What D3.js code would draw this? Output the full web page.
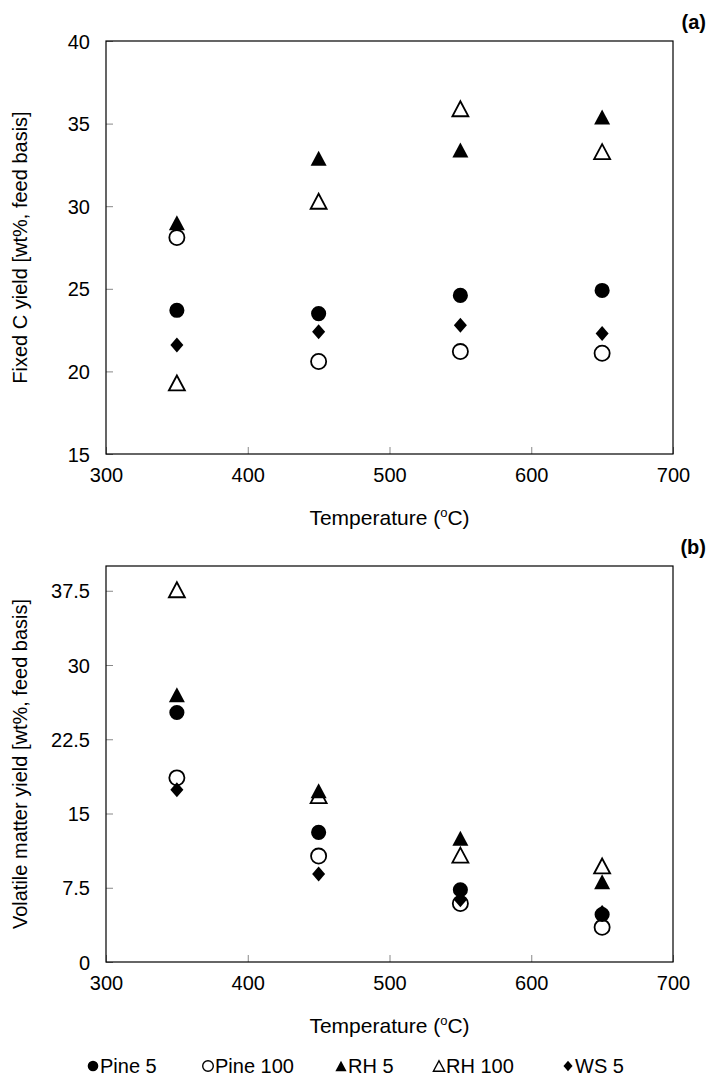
<!DOCTYPE html>
<html>
<head>
<meta charset="utf-8">
<script src="https://cdn.jsdelivr.net/npm/d3@7"></script>
<style>
  body { margin: 0; background: #fff; }
  text { font-family: "Liberation Sans", Arial, sans-serif; fill: #000; }
</style>
</head>
<body>
<svg id="chart" width="709" height="1089"></svg>
<script>
// data
const temps = [350, 450, 550, 650];
const seriesNames = ["Pine 5", "Pine 100", "RH 5", "RH 100", "WS 5"];

// (a) fixed C yield, wt% feed basis
const fixedPine5   = [23.7, 23.5, 24.6, 24.9];
const fixedPine100 = [28.1, 20.6, 21.2, 21.1];
const fixedRH5     = [29.0, 32.9, 33.4, 35.4];
const fixedRH100   = [19.3, 30.3, 35.9, 33.3];
const fixedWS5     = [21.6, 22.4, 22.8, 22.3];

// (b) volatile matter yield, wt% feed basis
const volPine5   = [25.2, 13.1, 7.3, 4.8];
const volPine100 = [18.6, 10.7, 5.9, 3.5];
const volRH5     = [27.0, 17.3, 12.5, 8.1];
const volRH100   = [37.6, 16.8, 10.8, 9.7];
const volWS5     = [17.4, 8.9, 6.3, 5.0];

const xTicks = [300, 400, 500, 600, 700];
const yTicksA = [15, 20, 25, 30, 35, 40];
const yTicksB = [0, 7.5, 15, 22.5, 30, 37.5];

const svg = d3.select("#chart");
const left = 106, right = 673;

const x = d3.scaleLinear().domain([300, 700]).range([left, right]);

// marker shapes, centred on their box
const shapes = {
  circle: d3.symbol(d3.symbolCircle, 180)(),
  triangle: "M0,-7.5L8,7.5L-8,7.5Z",
  diamond: "M0,-7.5L6.5,0L0,7.5L-6.5,0Z"
};
const styles = [
  { shape: "circle", filled: true },
  { shape: "circle", filled: false },
  { shape: "triangle", filled: true },
  { shape: "triangle", filled: false },
  { shape: "diamond", filled: true }
];

function drawPanel(opts) {
  const y = d3.scaleLinear().domain(opts.yDomain).range([opts.bottom, opts.top]);
  const g = svg.append("g");

  // x axis with inside ticks
  const xAxis = g.append("g")
    .attr("transform", `translate(0,${opts.bottom})`)
    .call(d3.axisBottom(x).tickValues(xTicks).tickSizeInner(-7).tickSizeOuter(0).tickPadding(14));
  xAxis.select(".domain").remove();
  xAxis.selectAll(".tick line").attr("stroke", "#888");
  xAxis.selectAll(".tick text").attr("font-size", 20).attr("dy", "0.72em");

  const yAxis = g.append("g")
    .attr("transform", `translate(${left},0)`)
    .call(d3.axisLeft(y).tickValues(opts.yTicks).tickFormat(d => String(d))
      .tickSizeInner(-7).tickSizeOuter(0).tickPadding(16));
  yAxis.select(".domain").remove();
  yAxis.selectAll(".tick line").attr("stroke", "#888");
  yAxis.selectAll(".tick text").attr("font-size", 20).attr("dy", "0.35em");

  // frame
  g.append("rect")
    .attr("x", left).attr("y", opts.top)
    .attr("width", right - left).attr("height", opts.bottom - opts.top)
    .attr("fill", "none").attr("stroke", "#000").attr("stroke-width", 1.2);

  // points, series in legend order
  opts.series.forEach((vals, i) => {
    const st = styles[i];
    g.append("g").selectAll("path")
      .data(vals.map((v, j) => ({ t: temps[j], v })))
      .join("path")
      .attr("d", shapes[st.shape])
      .attr("transform", d => `translate(${x(d.t)},${y(d.v)})`)
      .attr("fill", st.filled ? "#000" : "none")
      .attr("stroke", "#000")
      .attr("stroke-width", st.filled ? 0 : 1.8);
  });

  g.append("text")
    .attr("x", (left + right) / 2).attr("y", opts.bottom + 71)
    .attr("text-anchor", "middle").attr("font-size", 21)
    .html('Temperature (<tspan font-size="13" dy="-8">o</tspan><tspan dy="8">C)</tspan>');

  g.append("text")
    .attr("transform", `translate(27,${(opts.top + opts.bottom) / 2}) rotate(-90)`)
    .attr("text-anchor", "middle").attr("font-size", 20)
    .text(opts.yTitle);

  g.append("text")
    .attr("x", 706).attr("y", opts.labelY)
    .attr("text-anchor", "end").attr("font-size", 20).attr("font-weight", "bold")
    .text(opts.label);
}

drawPanel({
  top: 41, bottom: 454, yDomain: [15, 40], yTicks: yTicksA,
  series: [fixedPine5, fixedPine100, fixedRH5, fixedRH100, fixedWS5],
  yTitle: "Fixed C yield [wt%, feed basis]", label: "(a)", labelY: 29
});

drawPanel({
  top: 566, bottom: 962, yDomain: [0, 40], yTicks: yTicksB,
  series: [volPine5, volPine100, volRH5, volRH100, volWS5],
  yTitle: "Volatile matter yield [wt%, feed basis]", label: "(b)", labelY: 554
});

// legend
const legendX = [88, 203, 336, 434, 563];
const legend = svg.append("g").attr("transform", "translate(0,1066)");
seriesNames.forEach((name, i) => {
  const st = styles[i];
  const item = legend.append("g").attr("transform", `translate(${legendX[i]},0)`);
  item.append("path")
    .attr("d", shapes[st.shape])
    .attr("transform", "translate(5,0) scale(0.7)")
    .attr("fill", st.filled ? "#000" : "none")
    .attr("stroke", "#000")
    .attr("stroke-width", st.filled ? 0 : 2);
  item.append("text")
    .attr("x", 12).attr("y", 0).attr("dy", "0.36em")
    .attr("font-size", 20)
    .text(name);
});
</script>
</body>
</html>
